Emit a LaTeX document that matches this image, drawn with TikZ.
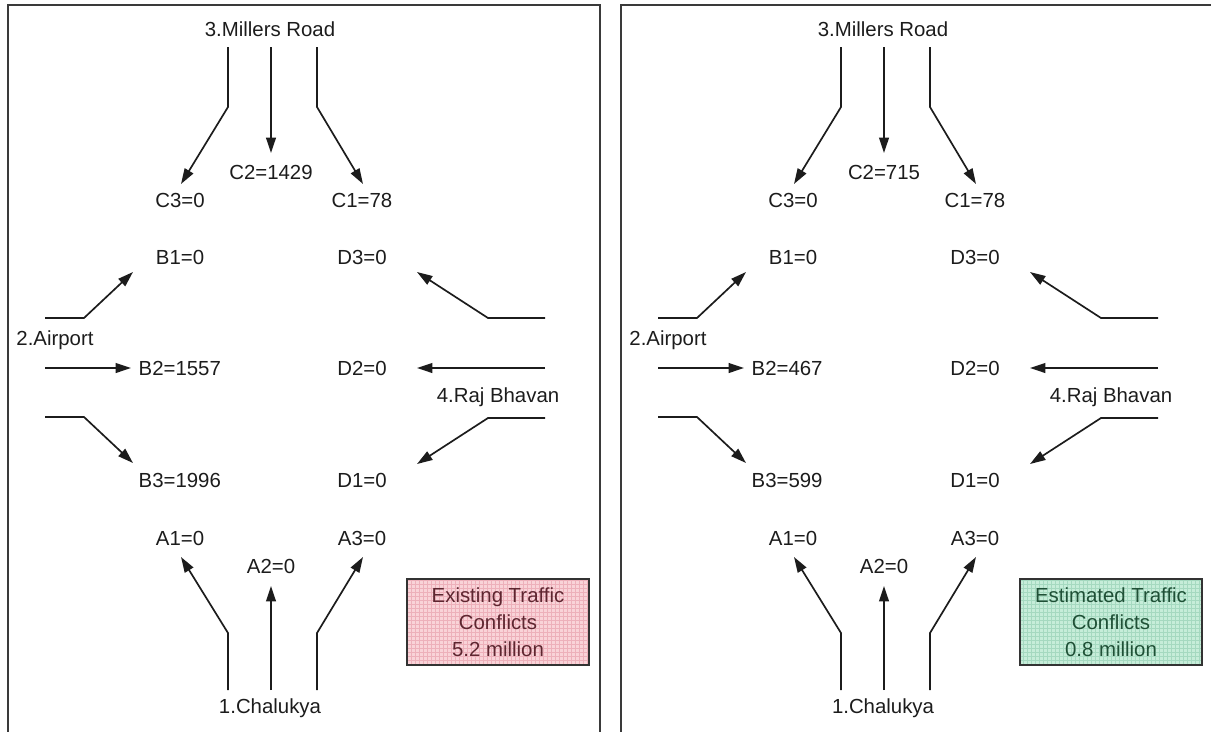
\documentclass[tikz,border=0pt]{standalone}
\usepackage{fontspec}
\setmainfont{Liberation Sans}
\usetikzlibrary{arrows.meta}
\definecolor{FrameGray}{HTML}{3A3A3A}
\definecolor{LabelInk}{HTML}{1C1C1C}
\definecolor{ExistFill}{HTML}{F9D3D8}
\definecolor{ExistGrid}{HTML}{EDB0BA}
\definecolor{ExistInk}{HTML}{5E2630}
\definecolor{EstFill}{HTML}{C6EDD9}
\definecolor{EstGrid}{HTML}{A5D9C0}
\definecolor{EstInk}{HTML}{1F5036}

\begin{document}
\begin{tikzpicture}[x=0.025cm,y=-0.025cm,line cap=butt,line join=miter,
  font=\fontsize{14.5}{19}\selectfont,
  flow/.style={LabelInk,line width=1.2pt,-{Triangle[length=11pt,width=7pt]}},
  lbl/.style={text=LabelInk,inner sep=1pt},
  panel/.style={draw=FrameGray,line width=1.4pt},
  tally/.style={draw=black!80,line width=1.4pt,minimum width=4.55cm,minimum height=2.15cm,
    align=center,inner sep=0pt}]
  \useasboundingbox (0,0) rectangle (1211,731);
  \clip (0,0) rectangle (1211,731);
  % one panel per scenario: existing (left) and estimated (right)
  \foreach \p/\dx/\ctwo/\btwo/\bthree/\fillc/\gridc/\inkc/\boxtext in
    {L/0/1429/1557/1996/ExistFill/ExistGrid/ExistInk/{Existing Traffic\\Conflicts\\5.2 million},
     R/613/715/467/599/EstFill/EstGrid/EstInk/{Estimated Traffic\\Conflicts\\0.8 million}}{
  \begin{scope}[shift={(\dx,0)}]
    \draw[panel] (8,5) rectangle (600,760);
    % approach roads
    \node[lbl] (\p R3) at (270,29) {3.Millers Road};
    \node[lbl] (\p R2) at (55,340) {2.Airport};
    \node[lbl] (\p R4) at (498,397) {4.Raj Bhavan};
    \node[lbl] (\p R1) at (270,708) {1.Chalukya};
    % movement counts
    \node[lbl] (\p C2) at (271,172) {C2=\ctwo};
    \node[lbl] (\p C3) at (180,200) {C3=0};
    \node[lbl] (\p C1) at (362,200) {C1=78};
    \node[lbl] (\p B1) at (180,257) {B1=0};
    \node[lbl] (\p D3) at (362,257) {D3=0};
    \node[lbl,anchor=west] (\p B2) at (137,368) {B2=\btwo};
    \node[lbl] (\p D2) at (362,368) {D2=0};
    \node[lbl,anchor=west] (\p B3) at (137,480) {B3=\bthree};
    \node[lbl] (\p D1) at (362,480) {D1=0};
    \node[lbl] (\p A1) at (180,538) {A1=0};
    \node[lbl] (\p A3) at (362,538) {A3=0};
    \node[lbl] (\p A2) at (271,566) {A2=0};
    % lane ends and arrow tips
    \coordinate (\p n1) at (228,47);  \coordinate (\p tC3) at (181,184);
    \coordinate (\p n2) at (271,47);  \coordinate (\p tC2) at (271,153);
    \coordinate (\p n3) at (317,47);  \coordinate (\p tC1) at (363,184);
    \coordinate (\p w1) at (45,318);  \coordinate (\p tB1) at (133,272);
    \coordinate (\p w2) at (45,368);  \coordinate (\p tB2) at (131,368);
    \coordinate (\p w3) at (45,417);  \coordinate (\p tB3) at (133,463);
    \coordinate (\p e1) at (545,318); \coordinate (\p tD3) at (417,272);
    \coordinate (\p e2) at (545,368); \coordinate (\p tD2) at (417,368);
    \coordinate (\p e3) at (545,418); \coordinate (\p tD1) at (417,464);
    \coordinate (\p s1) at (228,690); \coordinate (\p tA1) at (181,557);
    \coordinate (\p s2) at (271,690); \coordinate (\p tA2) at (271,586);
    \coordinate (\p s3) at (317,690); \coordinate (\p tA3) at (363,557);
    \draw[flow] (\p n1) -- ++(0,60) -- (\p tC3);
    \draw[flow] (\p n2) -- (\p tC2);
    \draw[flow] (\p n3) -- ++(0,60) -- (\p tC1);
    \draw[flow] (\p w1) -- ++(39,0) -- (\p tB1);
    \draw[flow] (\p w2) -- (\p tB2);
    \draw[flow] (\p w3) -- ++(39,0) -- (\p tB3);
    \draw[flow] (\p e1) -- ++(-57,0) -- (\p tD3);
    \draw[flow] (\p e2) -- (\p tD2);
    \draw[flow] (\p e3) -- ++(-57,0) -- (\p tD1);
    \draw[flow] (\p s1) -- ++(0,-57) -- (\p tA1);
    \draw[flow] (\p s2) -- (\p tA2);
    \draw[flow] (\p s3) -- ++(0,-57) -- (\p tA3);
    % conflict total
    \node[tally,fill=\fillc,text=\inkc,
      path picture={\draw[\gridc,line width=0.4pt,step=0.1cm]
        (path picture bounding box.south west) grid (path picture bounding box.north east);}]
      (\p tot) at (498,622) {\boxtext};
  \end{scope}}
\end{tikzpicture}
\end{document}
